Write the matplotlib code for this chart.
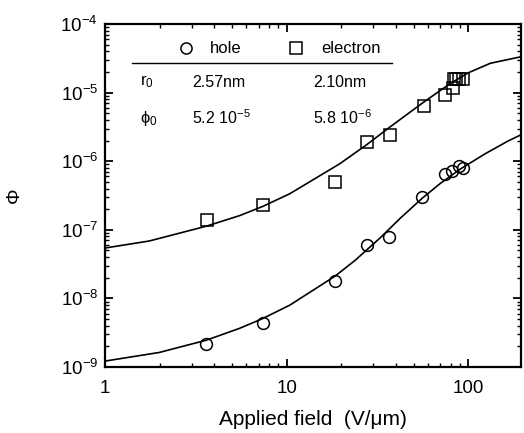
import matplotlib
matplotlib.use("Agg")
import matplotlib.pyplot as plt

plt.rcParams["font.family"] = ["Liberation Sans", "DejaVu Sans"]
plt.rcParams["mathtext.default"] = "regular"
plt.rcParams["axes.unicode_minus"] = False

# measured points (field in V/um, quantum efficiency)
hole_field = [3.61, 7.37, 18.4, 27.7, 36.6, 55.7, 74.6, 81.6, 89.0, 93.8]
hole_phi = [2.2e-9, 4.4e-9, 1.8e-8, 6.0e-8, 7.9e-8, 3.0e-7, 6.5e-7, 7.2e-7, 8.5e-7, 7.9e-7]

elec_field = [3.65, 7.37, 18.4, 27.7, 37.0, 57.0, 74.6, 82.0, 83.0, 86.0, 89.0, 93.0]
elec_phi = [1.4e-7, 2.3e-7, 5.0e-7, 1.9e-6, 2.4e-6, 6.4e-6, 9.2e-6, 1.17e-5, 1.6e-5, 1.6e-5, 1.6e-5, 1.6e-5]

# fitted curves
hole_fit_field = [1.0, 1.99, 3.61, 5.50, 7.37, 10.4, 18.4, 23.8, 32.7, 42.1, 55.7, 70.0, 90.3, 124, 164, 199]
hole_fit_phi = [1.22e-9, 1.63e-9, 2.46e-9, 3.66e-9, 5.08e-9, 7.98e-9, 2.10e-8, 3.59e-8,
                7.64e-8, 1.47e-7, 2.89e-7, 4.74e-7, 7.69e-7, 1.29e-6, 1.95e-6, 2.50e-6]

elec_fit_field = [1.0, 1.75, 3.61, 5.50, 7.37, 10.4, 19.6, 27.7, 37.1, 56.4, 79.5, 100, 132, 199]
elec_fit_phi = [5.43e-8, 6.87e-8, 1.13e-7, 1.61e-7, 2.19e-7, 3.36e-7, 9.2e-7, 1.76e-6,
                3.17e-6, 7.19e-6, 1.36e-5, 1.95e-5, 2.68e-5, 3.38e-5]

fig = plt.figure(figsize=(5.24, 4.33), dpi=100)
ax = fig.add_axes([0.2004, 0.1524, 0.794, 0.792])

ax.plot(hole_fit_field, hole_fit_phi, color="black", lw=1.2)
ax.plot(elec_fit_field, elec_fit_phi, color="black", lw=1.2)
ax.plot(hole_field, hole_phi, "o", ms=8.5, mfc="none", mec="black", mew=1.1)
ax.plot(elec_field, elec_phi, "s", ms=8.5, mfc="none", mec="black", mew=1.1)

ax.set_xscale("log")
ax.set_yscale("log")
ax.set_xlim(1, 195)
ax.set_ylim(1e-9, 1e-4)
ax.set_xticks([1, 10, 100])
ax.set_xticklabels(["1", "10", "100"])
ax.tick_params(which="both", direction="in", top=True, right=True, labelsize=13.5)
ax.tick_params(which="major", length=6, width=1.3)
ax.tick_params(which="minor", length=3, width=1.0)
ax.tick_params(axis="x", which="major", pad=9)
ax.tick_params(axis="y", which="major", pad=5)
for s in ax.spines.values():
    s.set_linewidth(1.6)

ax.set_xlabel("Applied field  (V/\u03bcm)", fontsize=15)
ax.xaxis.set_label_coords(0.5, -0.125)
ax.set_ylabel("\u03a6", fontsize=14)
ax.yaxis.set_label_coords(-0.197, 0.5)

# parameter table in the upper left
tr = ax.transAxes
ax.plot([0.195], [0.930], "o", ms=8, mfc="none", mec="black", mew=1.1, transform=tr)
ax.text(0.252, 0.930, "hole", fontsize=12, va="center", transform=tr)
ax.plot([0.459], [0.930], "s", ms=8, mfc="none", mec="black", mew=1.1, transform=tr)
ax.text(0.519, 0.930, "electron", fontsize=12, va="center", transform=tr)
ax.plot([0.065, 0.690], [0.886, 0.886], color="black", lw=1.0, transform=tr)

ax.text(0.085, 0.831, "r$_0$", fontsize=12, va="center", transform=tr)
ax.text(0.209, 0.831, "2.57nm", fontsize=11.5, va="center", transform=tr)
ax.text(0.500, 0.831, "2.10nm", fontsize=11.5, va="center", transform=tr)
ax.text(0.085, 0.726, "$\\phi_0$", fontsize=12, va="center", transform=tr)
ax.text(0.209, 0.726, "5.2 10$^{-5}$", fontsize=11.5, va="center", transform=tr)
ax.text(0.500, 0.726, "5.8 10$^{-6}$", fontsize=11.5, va="center", transform=tr)

fig.savefig("out.png", dpi=100)
